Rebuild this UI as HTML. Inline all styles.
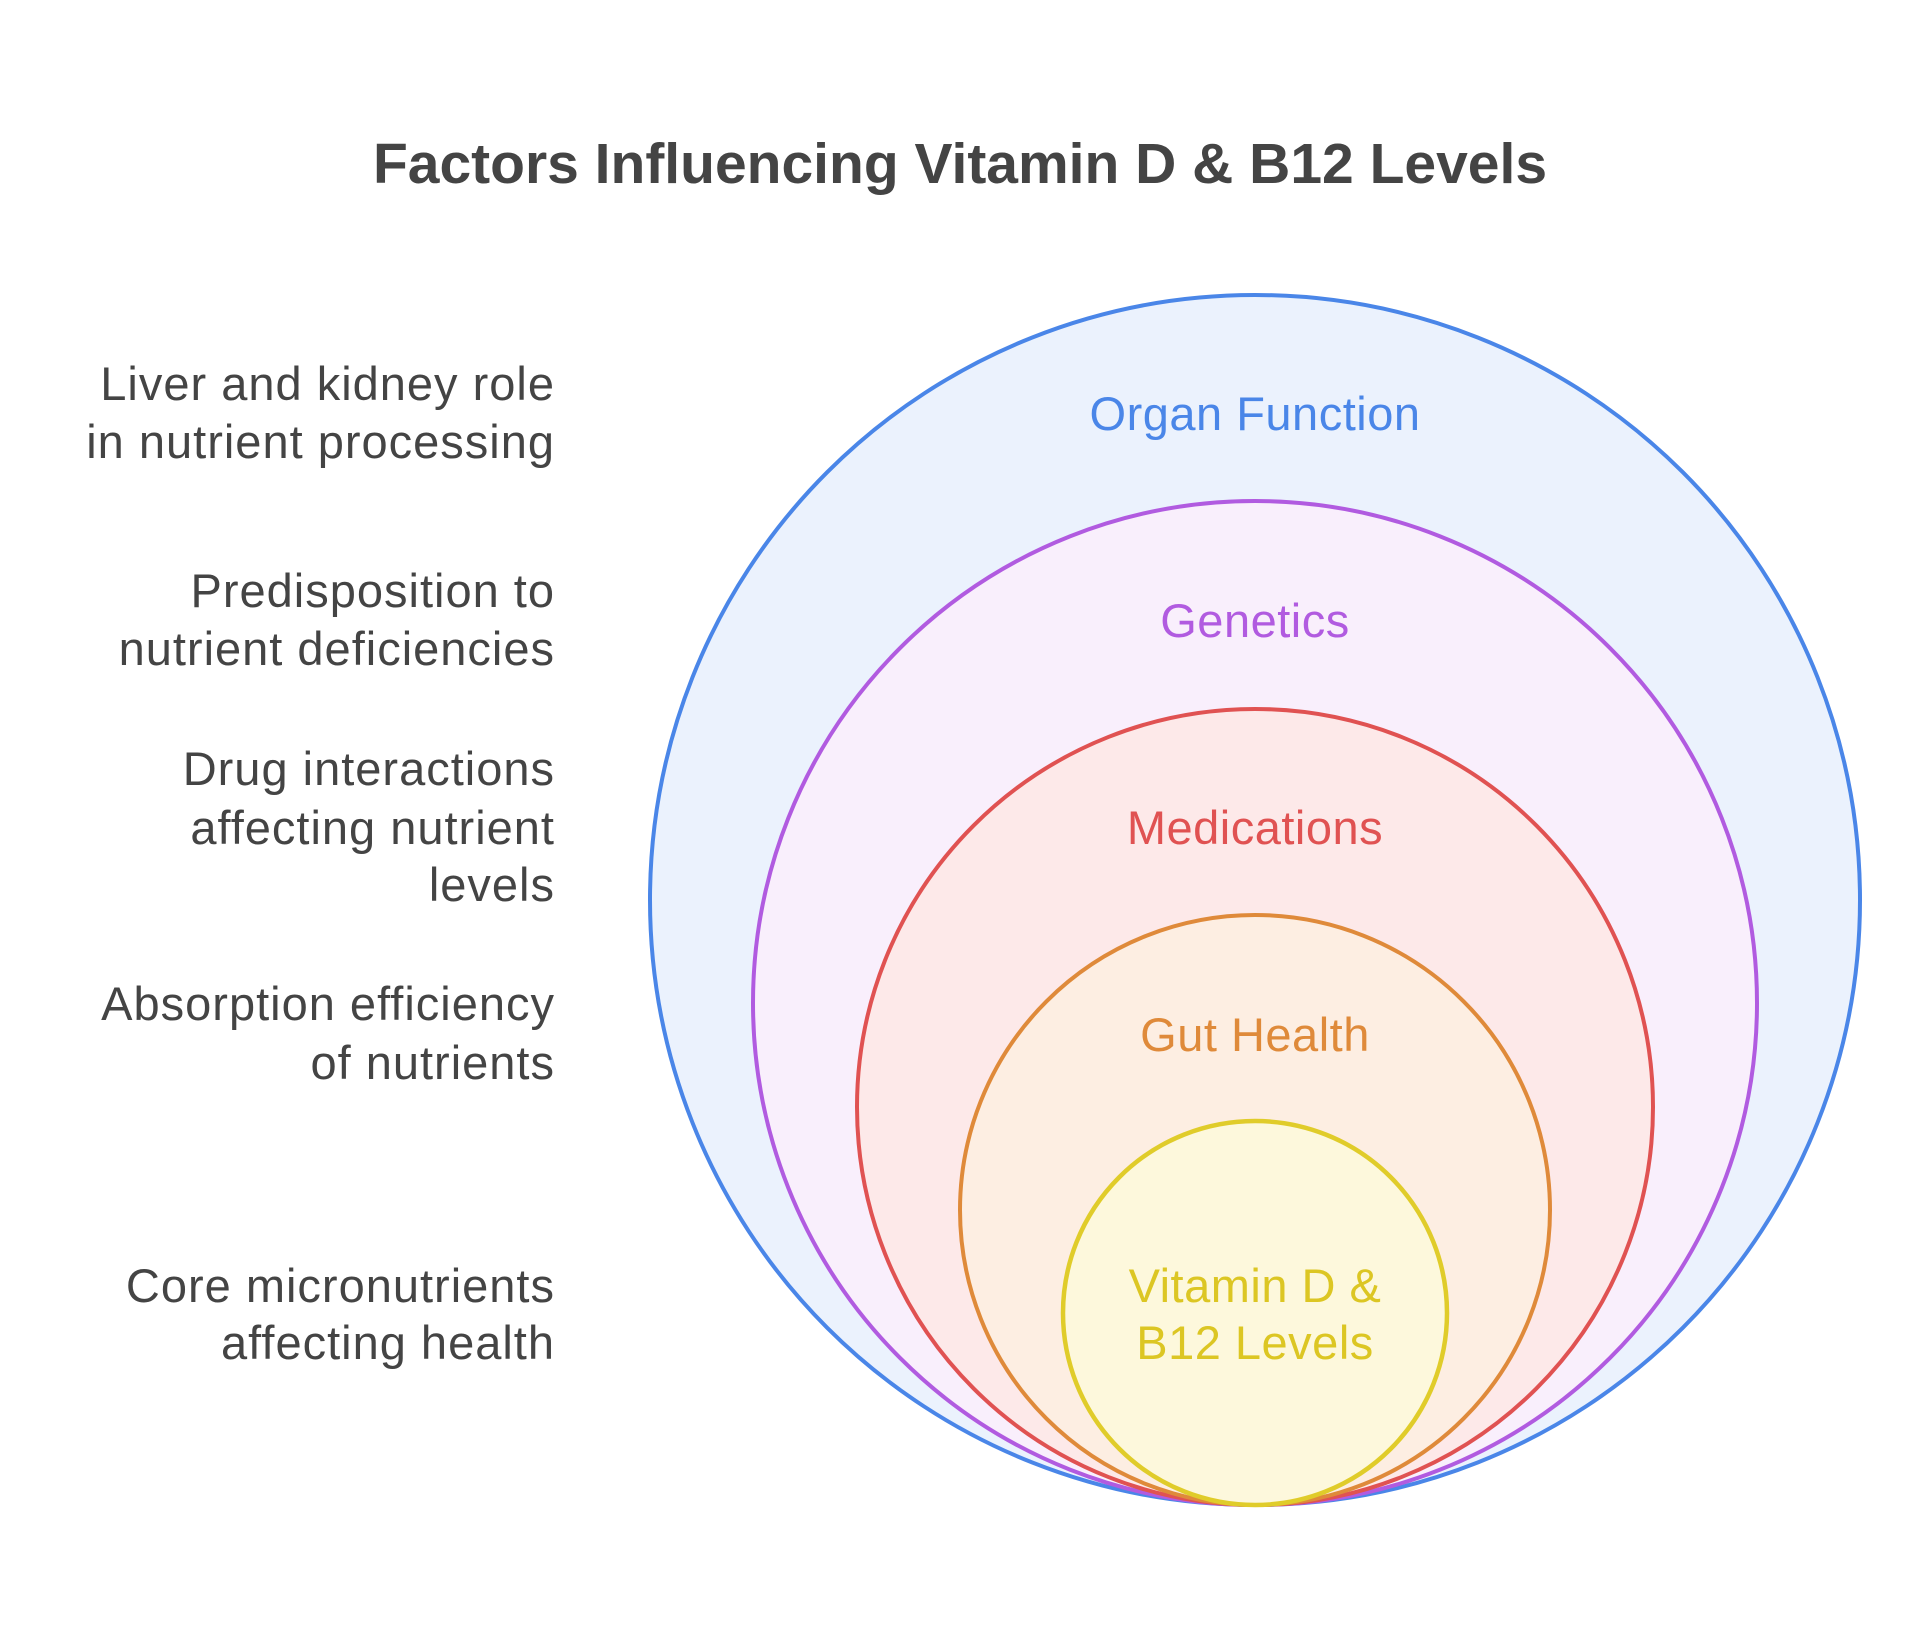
<!DOCTYPE html>
<html><head><meta charset="utf-8"><style>
html,body{margin:0;padding:0;background:#fff;}
svg{display:block;}
text{font-family:"Liberation Sans",sans-serif;}
</style></head><body>
<svg width="1920" height="1625" viewBox="0 0 1920 1625" xmlns="http://www.w3.org/2000/svg">
<rect width="1920" height="1625" fill="#fff"/>
<text x="960" y="183" text-anchor="middle" font-size="57" font-weight="bold" fill="#444">Factors Influencing Vitamin D &amp; B12 Levels</text>
<circle cx="1255" cy="900" r="605" fill="#ebf2fd" stroke="#4a86e8" stroke-width="4"/>
<circle cx="1255" cy="1003" r="502" fill="#f9effc" stroke="#b15be0" stroke-width="4"/>
<circle cx="1255" cy="1107" r="398" fill="#fde9e9" stroke="#e05252" stroke-width="4"/>
<circle cx="1255" cy="1210" r="295" fill="#fdeee2" stroke="#df8a3a" stroke-width="4"/>
<circle cx="1255" cy="1313" r="192" fill="#fdf8dc" stroke="#e0cc2a" stroke-width="4.5"/>
<g font-size="47" text-anchor="middle" letter-spacing="0.5">
<text x="1255" y="430" fill="#4a86e8">Organ Function</text>
<text x="1255" y="637" fill="#b15be0">Genetics</text>
<text x="1255" y="844" fill="#e05252">Medications</text>
<text x="1255" y="1051" fill="#df8a3a">Gut Health</text>
<text x="1255" y="1302" fill="#dcc623">Vitamin D &amp;</text>
<text x="1255" y="1359" fill="#dcc623">B12 Levels</text>
</g>
<g font-size="47" text-anchor="end" fill="#444" letter-spacing="1">
<text x="555" y="400">Liver and kidney role</text>
<text x="555" y="458">in nutrient processing</text>
<text x="555" y="607">Predisposition to</text>
<text x="555" y="665">nutrient deficiencies</text>
<text x="555" y="785">Drug interactions</text>
<text x="555" y="844">affecting nutrient</text>
<text x="555" y="901">levels</text>
<text x="555" y="1020">Absorption efficiency</text>
<text x="555" y="1079">of nutrients</text>
<text x="555" y="1302">Core micronutrients</text>
<text x="555" y="1359">affecting health</text>
</g>
</svg>
</body></html>
